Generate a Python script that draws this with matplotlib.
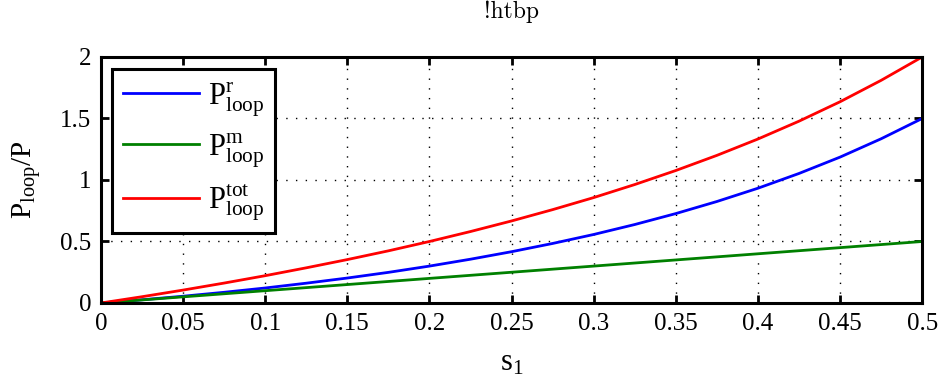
import matplotlib
matplotlib.use("Agg")
import matplotlib.pyplot as plt

plt.rcParams["font.family"] = ["Liberation Serif", "DejaVu Serif"]
plt.rcParams["mathtext.fontset"] = "custom"
plt.rcParams["mathtext.rm"] = "Liberation Serif"
plt.rcParams["mathtext.it"] = "Liberation Serif:italic"

# s_1 values
s1 = [0.0, 0.025, 0.05, 0.075, 0.1, 0.125, 0.15, 0.175, 0.2, 0.225, 0.25,
      0.275, 0.3, 0.325, 0.35, 0.375, 0.4, 0.425, 0.45, 0.475, 0.5]

# P_loop^r / P
p_r = [0.0, 0.026, 0.055, 0.087, 0.122, 0.161, 0.203, 0.249, 0.300, 0.356, 0.417,
       0.484, 0.557, 0.638, 0.727, 0.825, 0.933, 1.053, 1.186, 1.335, 1.500]

# P_loop^m / P
p_m = [0.0, 0.025, 0.05, 0.075, 0.1, 0.125, 0.15, 0.175, 0.2, 0.225, 0.25,
       0.275, 0.3, 0.325, 0.35, 0.375, 0.4, 0.425, 0.45, 0.475, 0.5]

# P_loop^tot / P
p_tot = [0.0, 0.051, 0.105, 0.162, 0.222, 0.286, 0.353, 0.424, 0.500, 0.581, 0.667,
         0.759, 0.857, 0.963, 1.077, 1.200, 1.333, 1.478, 1.636, 1.810, 2.000]

xticks = [0, 0.05, 0.1, 0.15, 0.2, 0.25, 0.3, 0.35, 0.4, 0.45, 0.5]
xtick_labels = ["0", "0.05", "0.1", "0.15", "0.2", "0.25", "0.3", "0.35", "0.4", "0.45", "0.5"]
yticks = [0, 0.5, 1, 1.5, 2]
ytick_labels = ["0", "0.5", "1", "1.5", "2"]

fig = plt.figure(figsize=(9.41, 3.85), dpi=100)
ax = fig.add_axes([0.1073, 0.213, 0.8727, 0.639])

ax.plot(s1, p_r, color="#0000ff", lw=2, label=r"$\mathrm{P^{r}_{loop}}$")
ax.plot(s1, p_m, color="#008000", lw=2, label=r"$\mathrm{P^{m}_{loop}}$")
ax.plot(s1, p_tot, color="#ff0000", lw=2, label=r"$\mathrm{P^{tot}_{loop}}$")

ax.set_xlim(0, 0.5)
ax.set_ylim(0, 2)
ax.set_xticks(xticks)
ax.set_xticklabels(xtick_labels)
ax.set_yticks(yticks)
ax.set_yticklabels(ytick_labels)
ax.tick_params(direction="in", top=True, right=True, length=6, width=2,
               labelsize=18, pad=7)
ax.grid(True, color="black", linestyle=(0, (1, 6)), linewidth=1)
for sp in ax.spines.values():
    sp.set_linewidth(2.2)

ax.set_xlabel(r"$\mathrm{s_1}$", fontsize=22, labelpad=10)
ax.set_ylabel(r"$\mathrm{P_{loop}/P}$", fontsize=21, labelpad=12)
ax.set_title("!htbp", fontsize=17, family="cmr10", pad=28)

leg = ax.legend(loc="upper left", fontsize=22, frameon=True, fancybox=False,
                edgecolor="black", framealpha=1, handlelength=2.5,
                handleheight=0.7, borderpad=0.35, labelspacing=0.4,
                handletextpad=0.3, borderaxespad=0,
                bbox_to_anchor=(0.0134, 0.951))
leg.get_frame().set_linewidth(2.2)

fig.savefig("out.png", dpi=100)
